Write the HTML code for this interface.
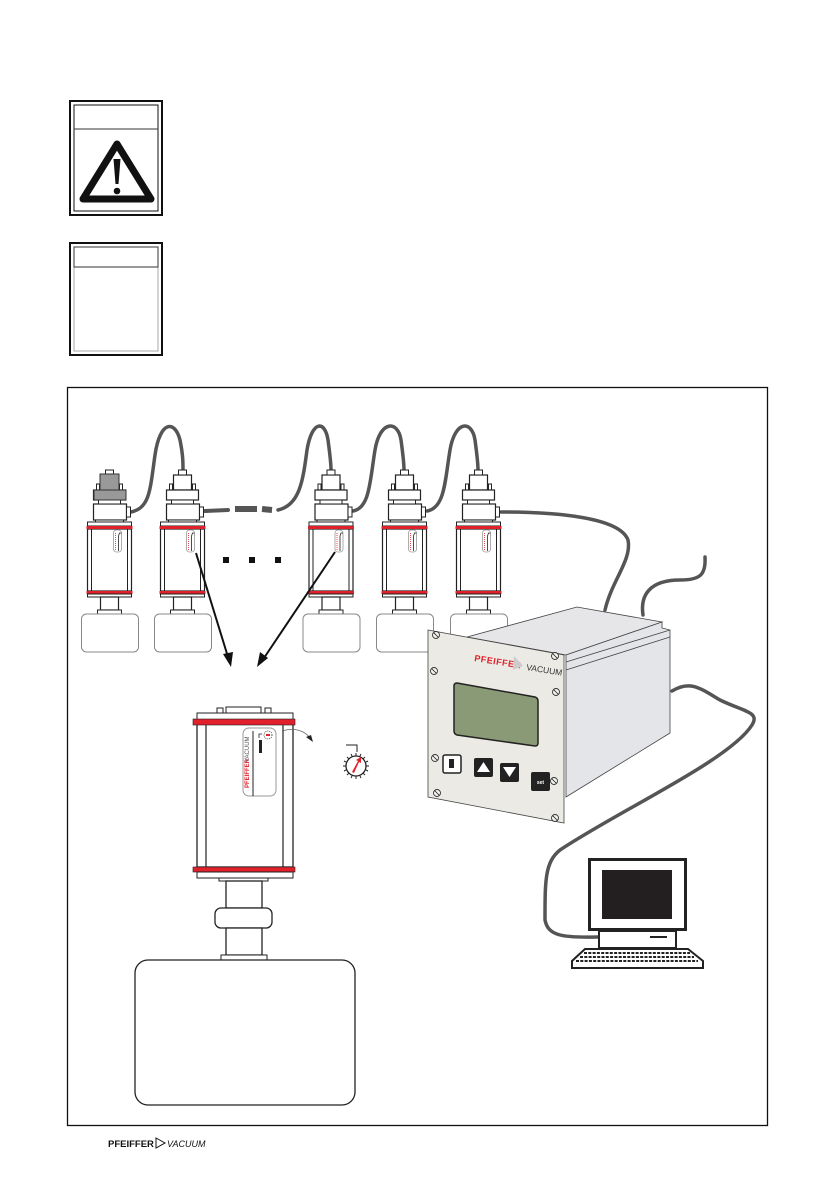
<!DOCTYPE html>
<html><head><meta charset="utf-8"><style>
html,body{margin:0;padding:0;background:#fff;}
svg{display:block;}
text{font-family:"Liberation Sans",sans-serif;}
</style></head><body>
<svg width="835" height="1191" viewBox="0 0 835 1191" xmlns="http://www.w3.org/2000/svg">
<defs>
<g id="g">
  <rect x="-9" y="475" width="18" height="15" fill="#fff" stroke="#222" stroke-width="1.2"/>
  <rect x="-4" y="470" width="8" height="5" fill="#fff" stroke="#222" stroke-width="1"/>
  <rect x="-13" y="484" width="3" height="6" fill="#fff" stroke="#222" stroke-width="1"/>
  <rect x="10" y="484" width="3" height="6" fill="#fff" stroke="#222" stroke-width="1"/>
  <rect x="-16" y="490" width="32" height="10" fill="#fff" stroke="#222" stroke-width="1.2"/>
  <rect x="-16" y="504" width="33" height="16" fill="#fff" stroke="#222" stroke-width="1.2"/>
  <rect x="17" y="507" width="4" height="10" fill="#fff" stroke="#222" stroke-width="1"/>
  <rect x="-11" y="500" width="22" height="4" fill="#fff" stroke="#222" stroke-width="1"/>
  <rect x="-14" y="520" width="28" height="2" fill="#fff" stroke="#222" stroke-width="1"/>
  <rect x="-22" y="522" width="44" height="4" fill="#fff" stroke="#222" stroke-width="1"/>
  <rect x="-22" y="529" width="44" height="62" fill="#fff" stroke="#222" stroke-width="1.2"/>
  <line x1="-18" y1="529" x2="-18" y2="591" stroke="#222" stroke-width="1"/>
  <line x1="18" y1="529" x2="18" y2="591" stroke="#222" stroke-width="1"/>
  <rect x="-23" y="526" width="46" height="3" fill="#e0202a"/>
  <rect x="-23" y="591" width="46" height="3" fill="#e0202a"/>
  <rect x="-22" y="594" width="44" height="3" fill="#fff" stroke="#222" stroke-width="1"/>
  <rect x="4" y="530" width="8" height="22" rx="3" fill="#fff" stroke="#999" stroke-width="0.8"/>
  <line x1="6" y1="533" x2="6" y2="550" stroke="#e0202a" stroke-width="0.8" stroke-dasharray="1 1"/>
  <line x1="9" y1="536" x2="9" y2="551" stroke="#222" stroke-width="0.8"/>
  <path d="M9 536 L10 533 L12 533" fill="none" stroke="#222" stroke-width="0.8"/>
  <rect x="-9" y="597" width="18" height="13" fill="#fff" stroke="#222" stroke-width="1.2"/>
  <rect x="-12" y="610" width="24" height="4" fill="#fff" stroke="#222" stroke-width="1"/>
  <rect x="-28" y="614" width="57" height="38" rx="5" fill="#fff" stroke="#888" stroke-width="1"/>
</g>
<g id="screw">
  <circle r="3.5" fill="#f4f4f0" stroke="#333" stroke-width="0.9"/>
  <line x1="-2.2" y1="-2.2" x2="2.2" y2="2.2" stroke="#333" stroke-width="0.9"/>
</g>
</defs>

<rect x="70" y="101" width="92" height="114" fill="#fff" stroke="#111" stroke-width="2"/>
<rect x="74" y="105" width="84" height="106" fill="none" stroke="#111" stroke-width="1"/>
<line x1="74" y1="129" x2="158" y2="129" stroke="#333" stroke-width="1"/>
<path d="M117 144 L151 199 L83 199 Z" fill="none" stroke="#111" stroke-width="7" stroke-linejoin="round"/>
<path d="M113.5 159 L120.5 159 L118.5 184 L115.5 184 Z" fill="#111"/>
<circle cx="117" cy="191" r="3.3" fill="#111"/>

<rect x="70" y="243" width="92" height="112" fill="#fff" stroke="#111" stroke-width="2"/>
<rect x="74" y="247" width="84" height="104" fill="none" stroke="#aaa" stroke-width="1"/>
<rect x="74" y="247" width="84" height="20" fill="none" stroke="#333" stroke-width="1"/>

<rect x="67.5" y="387.5" width="700" height="738" fill="none" stroke="#111" stroke-width="1.3"/>

<g fill="none" stroke="#555" stroke-width="3.5" stroke-linecap="round">
  <path d="M131 512 C150 508 150 490 155 455 C160 420 175 420 180 440 C183 455 183 462 183 470"/>
  <path d="M205 511 L228 510" stroke-width="4"/>
  <path d="M235 509 L257 509" stroke-width="6" stroke-linecap="butt"/>
  <path d="M262 509 L272 510" stroke-width="6" stroke-linecap="butt"/>
  <path d="M278 510 C300 505 303 480 307 450 C312 420 325 420 328 440 C330 455 331 462 331 470"/>
  <path d="M353 511 C370 508 370 480 375 450 C380 420 398 420 401 440 C403 455 404 462 404 470"/>
  <path d="M427 511 C445 508 445 480 450 450 C455 420 472 420 475 440 C477 455 478 462 478 470"/>
  <path d="M501 512 C560 512 620 518 628 540 C632 560 612 580 605 610"/>
  <path d="M643 615 C640 595 650 580 680 580 C700 580 706 575 705 557"/>
  <path d="M672 691 C690 680 700 688 720 700 C745 712 760 712 752 725 C730 760 620 810 560 850 C545 862 545 880 545 920 C548 935 560 938 598 937"/>
</g>

<use href="#g" x="109.5"/>
<rect x="100" y="474" width="19" height="16" fill="#999" stroke="#333" stroke-width="1"/>
<rect x="94" y="490" width="32" height="10" fill="#999" stroke="#333" stroke-width="1"/>
<use href="#g" x="182.5"/>
<use href="#g" x="331"/>
<use href="#g" x="404.5"/>
<use href="#g" x="478.5"/>

<rect x="223" y="557" width="6" height="6" fill="#111"/>
<rect x="249" y="557" width="6" height="6" fill="#111"/>
<rect x="275" y="557" width="6" height="6" fill="#111"/>

<line x1="196" y1="553" x2="228" y2="657" stroke="#111" stroke-width="2"/>
<path d="M231 667 L223 654 L233 652 Z" fill="#111"/>
<line x1="335" y1="552" x2="264" y2="658" stroke="#111" stroke-width="2"/>
<path d="M257 667 L260 652 L268 658 Z" fill="#111"/>

<path d="M467 637 L577 607 L662 622 L566 655 Z" fill="#e6e6e8" stroke="#444" stroke-width="0.8"/>
<path d="M566 655 L662 622 L662 628 L670 630 L670 733 L566 797 Z" fill="#e4e5e8" stroke="#444" stroke-width="0.8"/>
<line x1="566" y1="662" x2="670" y2="630" stroke="#444" stroke-width="0.8"/>
<line x1="566" y1="670" x2="670" y2="637" stroke="#444" stroke-width="0.8"/>
<path d="M428 630 L564 655 L564 823 L428 797 Z" fill="#ebeae4" stroke="#444" stroke-width="0.8"/>
<text x="474" y="661" font-size="9" font-weight="bold" fill="#e0202a" transform="rotate(9 474 661)" letter-spacing="0.5">PFEIFFER</text>
<path d="M514 656 L523 666 L513 670 Z" fill="#ccc"/>
<text x="526" y="670" font-size="8.5" fill="#333" transform="rotate(9 526 670)">VACUUM</text>
<path d="M457 683 L535 697 Q538 698 538 701 L538 743 Q538 746 535 746 L457 735 Q454 734 454 731 L454 686 Q454 683 457 683 Z" fill="#8a9a76" stroke="#222" stroke-width="1.5"/>
<rect x="443" y="755" width="18" height="18" rx="2" fill="#fff" stroke="#222" stroke-width="1.5"/>
<rect x="449" y="759" width="5" height="9" fill="#222"/>
<rect x="474" y="758" width="19" height="19" rx="2" fill="#222"/>
<path d="M477 772 L483.5 762 L490 772 Z" fill="#fff"/>
<rect x="500" y="763" width="19" height="19" rx="2" fill="#222"/>
<path d="M503 767 L516 767 L509.5 777 Z" fill="#fff"/>
<rect x="531" y="772" width="19" height="19" rx="2" fill="#222"/>
<text x="540.5" y="784" font-size="5" font-weight="bold" fill="#fff" text-anchor="middle">set</text>
<use href="#screw" x="436" y="635"/>
<use href="#screw" x="555" y="656"/>
<use href="#screw" x="434" y="671"/>
<use href="#screw" x="556" y="692"/>
<use href="#screw" x="435" y="758"/>
<use href="#screw" x="554" y="781"/>
<use href="#screw" x="437" y="793"/>
<use href="#screw" x="555" y="818"/>

<rect x="217" y="708" width="6" height="5" fill="#fff" stroke="#222" stroke-width="1"/>
<rect x="226" y="707" width="35" height="6" fill="#fff" stroke="#222" stroke-width="1"/>
<rect x="265" y="708" width="6" height="5" fill="#fff" stroke="#222" stroke-width="1"/>
<rect x="197" y="713" width="96" height="7" fill="#fff" stroke="#222" stroke-width="1"/>
<rect x="197" y="724" width="96" height="143" fill="#fff" stroke="#222" stroke-width="1.3"/>
<line x1="206" y1="724" x2="206" y2="867" stroke="#222" stroke-width="1.2"/>
<line x1="283" y1="724" x2="283" y2="867" stroke="#222" stroke-width="1.2"/>
<rect x="193" y="719" width="102" height="6" fill="#e0202a" stroke="#222" stroke-width="0.6"/>
<rect x="193" y="867" width="102" height="5" fill="#e0202a" stroke="#222" stroke-width="0.6"/>
<rect x="197" y="872" width="96" height="6" fill="#fff" stroke="#222" stroke-width="1"/>
<rect x="219" y="878" width="49" height="3" fill="#fff" stroke="#222" stroke-width="1"/>
<rect x="226" y="881" width="36" height="27" fill="#fff" stroke="#222" stroke-width="1.3"/>
<rect x="215" y="908" width="57" height="20" rx="6" fill="#fff" stroke="#222" stroke-width="1.3"/>
<rect x="226" y="928" width="36" height="27" fill="#fff" stroke="#222" stroke-width="1.3"/>
<rect x="221" y="955" width="46" height="5" fill="#fff" stroke="#222" stroke-width="1"/>
<rect x="135" y="960" width="220" height="145" rx="13" fill="#fff" stroke="#222" stroke-width="1.3"/>
<rect x="243" y="728" width="33" height="68" rx="6" fill="#fff" stroke="#999" stroke-width="1"/>
<line x1="253" y1="731" x2="253" y2="796" stroke="#222" stroke-width="1"/>
<text x="0" y="0" font-size="6" font-weight="bold" fill="#e0202a" transform="translate(249 788) rotate(-90)">PFEIFFER</text>
<text x="0" y="0" font-size="6" fill="#555" transform="translate(249 762) rotate(-90)">VACUUM</text>
<rect x="259" y="740" width="3" height="13" fill="#222"/>
<path d="M259 738 L259 734 L262 734" fill="none" stroke="#222" stroke-width="0.8"/>
<circle cx="268" cy="735" r="4" fill="#fff" stroke="#333" stroke-width="0.8" stroke-dasharray="1 1"/>
<rect x="266" y="734" width="4" height="2" fill="#e0202a"/>
<path d="M282 731 C295 727 305 731 310 738" fill="none" stroke="#666" stroke-width="0.8"/>
<path d="M313 742 L306 737 L311 735 Z" fill="#222"/>
<path d="M346 745 L357 745 L357 752" fill="none" stroke="#222" stroke-width="1"/>
<circle cx="356" cy="766" r="10" fill="#fff" stroke="#222" stroke-width="1.3"/>
<g stroke="#222" stroke-width="1">
<line x1="356" y1="753" x2="356" y2="756"/><line x1="356" y1="776" x2="356" y2="779"/>
<line x1="343" y1="766" x2="346" y2="766"/><line x1="366" y1="766" x2="369" y2="766"/>
<line x1="347" y1="757" x2="349" y2="759"/><line x1="363" y1="773" x2="365" y2="775"/>
<line x1="365" y1="757" x2="363" y2="759"/><line x1="347" y1="775" x2="349" y2="773"/>
<line x1="351" y1="754" x2="352" y2="756"/><line x1="361" y1="754" x2="360" y2="756"/>
<line x1="351" y1="778" x2="352" y2="776"/><line x1="361" y1="778" x2="360" y2="776"/>
<line x1="344" y1="761" x2="346" y2="762"/><line x1="368" y1="761" x2="366" y2="762"/>
<line x1="344" y1="771" x2="346" y2="770"/><line x1="368" y1="771" x2="366" y2="770"/>
</g>
<path d="M352 772 L358 761 L356 760 L361 757 L361 763 L359 762 L354 773 Z" fill="#e0202a"/>

<rect x="589.5" y="859.5" width="96" height="70" fill="#fff" stroke="#222" stroke-width="3"/>
<rect x="602" y="870" width="70" height="49" fill="#231f20"/>
<rect x="599" y="931" width="77" height="17" fill="#fff" stroke="#222" stroke-width="2"/>
<line x1="650" y1="937" x2="667" y2="937" stroke="#222" stroke-width="2"/>
<path d="M585 949 L688 949 L703 961 L703 968 L572 968 L572 961 Z" fill="#fff" stroke="#222" stroke-width="2"/>
<g stroke="#222" stroke-width="2" stroke-dasharray="3 1.3">
<line x1="584" y1="953" x2="690" y2="953"/>
<line x1="580" y1="957" x2="694" y2="957"/>
<line x1="576" y1="961" x2="698" y2="961"/>
</g>

<text x="108" y="1147" font-size="9.5" font-weight="bold" fill="#111">PFEIFFER</text>
<path d="M156 1138 L165 1143 L156 1148 Z" fill="none" stroke="#111" stroke-width="1"/>
<text x="167" y="1147" font-size="9" font-style="italic" fill="#111">VACUUM</text>
</svg>
</body></html>
